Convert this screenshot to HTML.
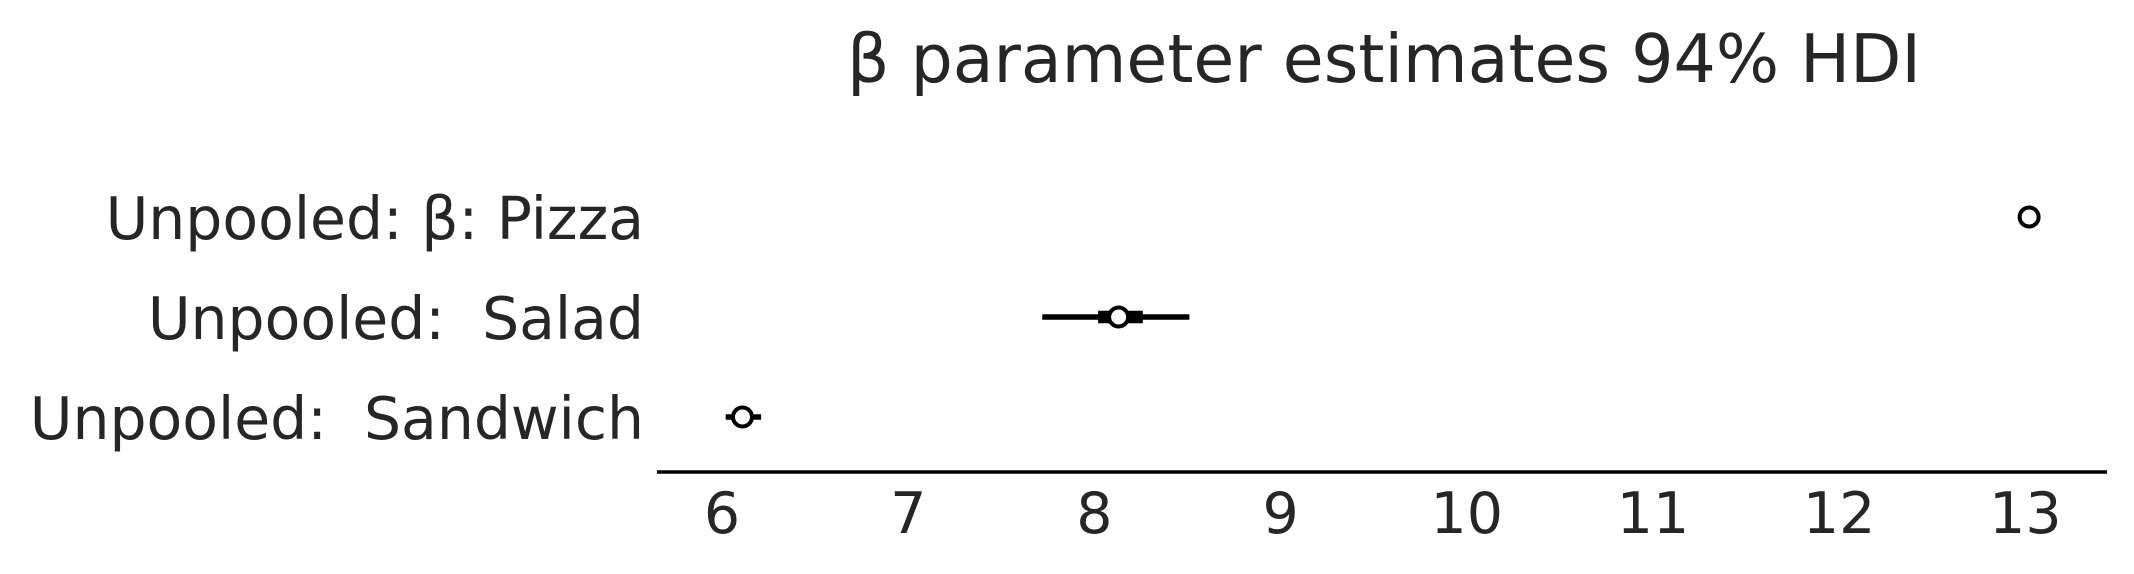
<!DOCTYPE html>
<html><head><meta charset="utf-8"><style>
html,body{margin:0;padding:0;background:#fff;}
svg{display:block;}
text{font-family:"DejaVu Sans","Liberation Sans",sans-serif;fill:#262626;}
</style></head><body>
<svg id="chart" width="2134" height="574" viewBox="0 0 2134 574" xmlns="http://www.w3.org/2000/svg">
<text x="1384" y="82" font-size="66.5" text-anchor="middle">β parameter estimates 94% HDI</text>
<line x1="657" y1="472" x2="2107" y2="472" stroke="#000" stroke-width="3.5"/>
<g id="ticks"></g><g id="labels"></g><g id="marks"></g>
</svg>
<script>
const categories = ["Unpooled: β: Pizza", "Unpooled:  Salad", "Unpooled:  Sandwich"];
const means = [13.02, 8.13, 6.11];
const hdiLow = [13.01, 7.72, 6.02];
const hdiHigh = [13.03, 8.51, 6.21];
const iqrLow = [13.015, 8.02, 6.06];
const iqrHigh = [13.025, 8.26, 6.16];
const tickValues = [6, 7, 8, 9, 10, 11, 12, 13];
const tickLabels = ["6", "7", "8", "9", "10", "11", "12", "13"];

const NS = "http://www.w3.org/2000/svg";
function xScale(v){ return 722 + (v - 6) * 186.2; }
function yScale(i){ return 217 + i * 100; }
function mk(tag, attrs, parent){
  const el = document.createElementNS(NS, tag);
  for (const k in attrs) el.setAttribute(k, attrs[k]);
  parent.appendChild(el);
  return el;
}
const ticksG = document.getElementById('ticks');
tickValues.forEach((v, i) => {
  const t = mk('text', {x: xScale(v), y: 533, 'font-size': 57, 'text-anchor': 'middle'}, ticksG);
  
  
  t.textContent = tickLabels[i];
});
const labelsG = document.getElementById('labels');
categories.forEach((c, i) => {
  const t = mk('text', {x: 644, y: yScale(i) + 22, 'font-size': 58.4, 'text-anchor': 'end'}, labelsG);
  
  
  t.style.whiteSpace = 'pre';
  t.textContent = c;
});
const marksG = document.getElementById('marks');
categories.forEach((c, i) => {
  const y = yScale(i);
  const l1 = mk('line', {x1: xScale(hdiLow[i]), x2: xScale(hdiHigh[i]), y1: y, y2: y, stroke: '#000', 'stroke-width': 5.5}, marksG);
  
  
  const l2 = mk('line', {x1: xScale(iqrLow[i]), x2: xScale(iqrHigh[i]), y1: y, y2: y, stroke: '#000', 'stroke-width': 12.5}, marksG);
  
  
  const p = mk('circle', {cx: xScale(means[i]), cy: y, r: 9.5, fill: '#fff', stroke: '#000', 'stroke-width': 4}, marksG);
  
  
});
</script>
</body></html>
